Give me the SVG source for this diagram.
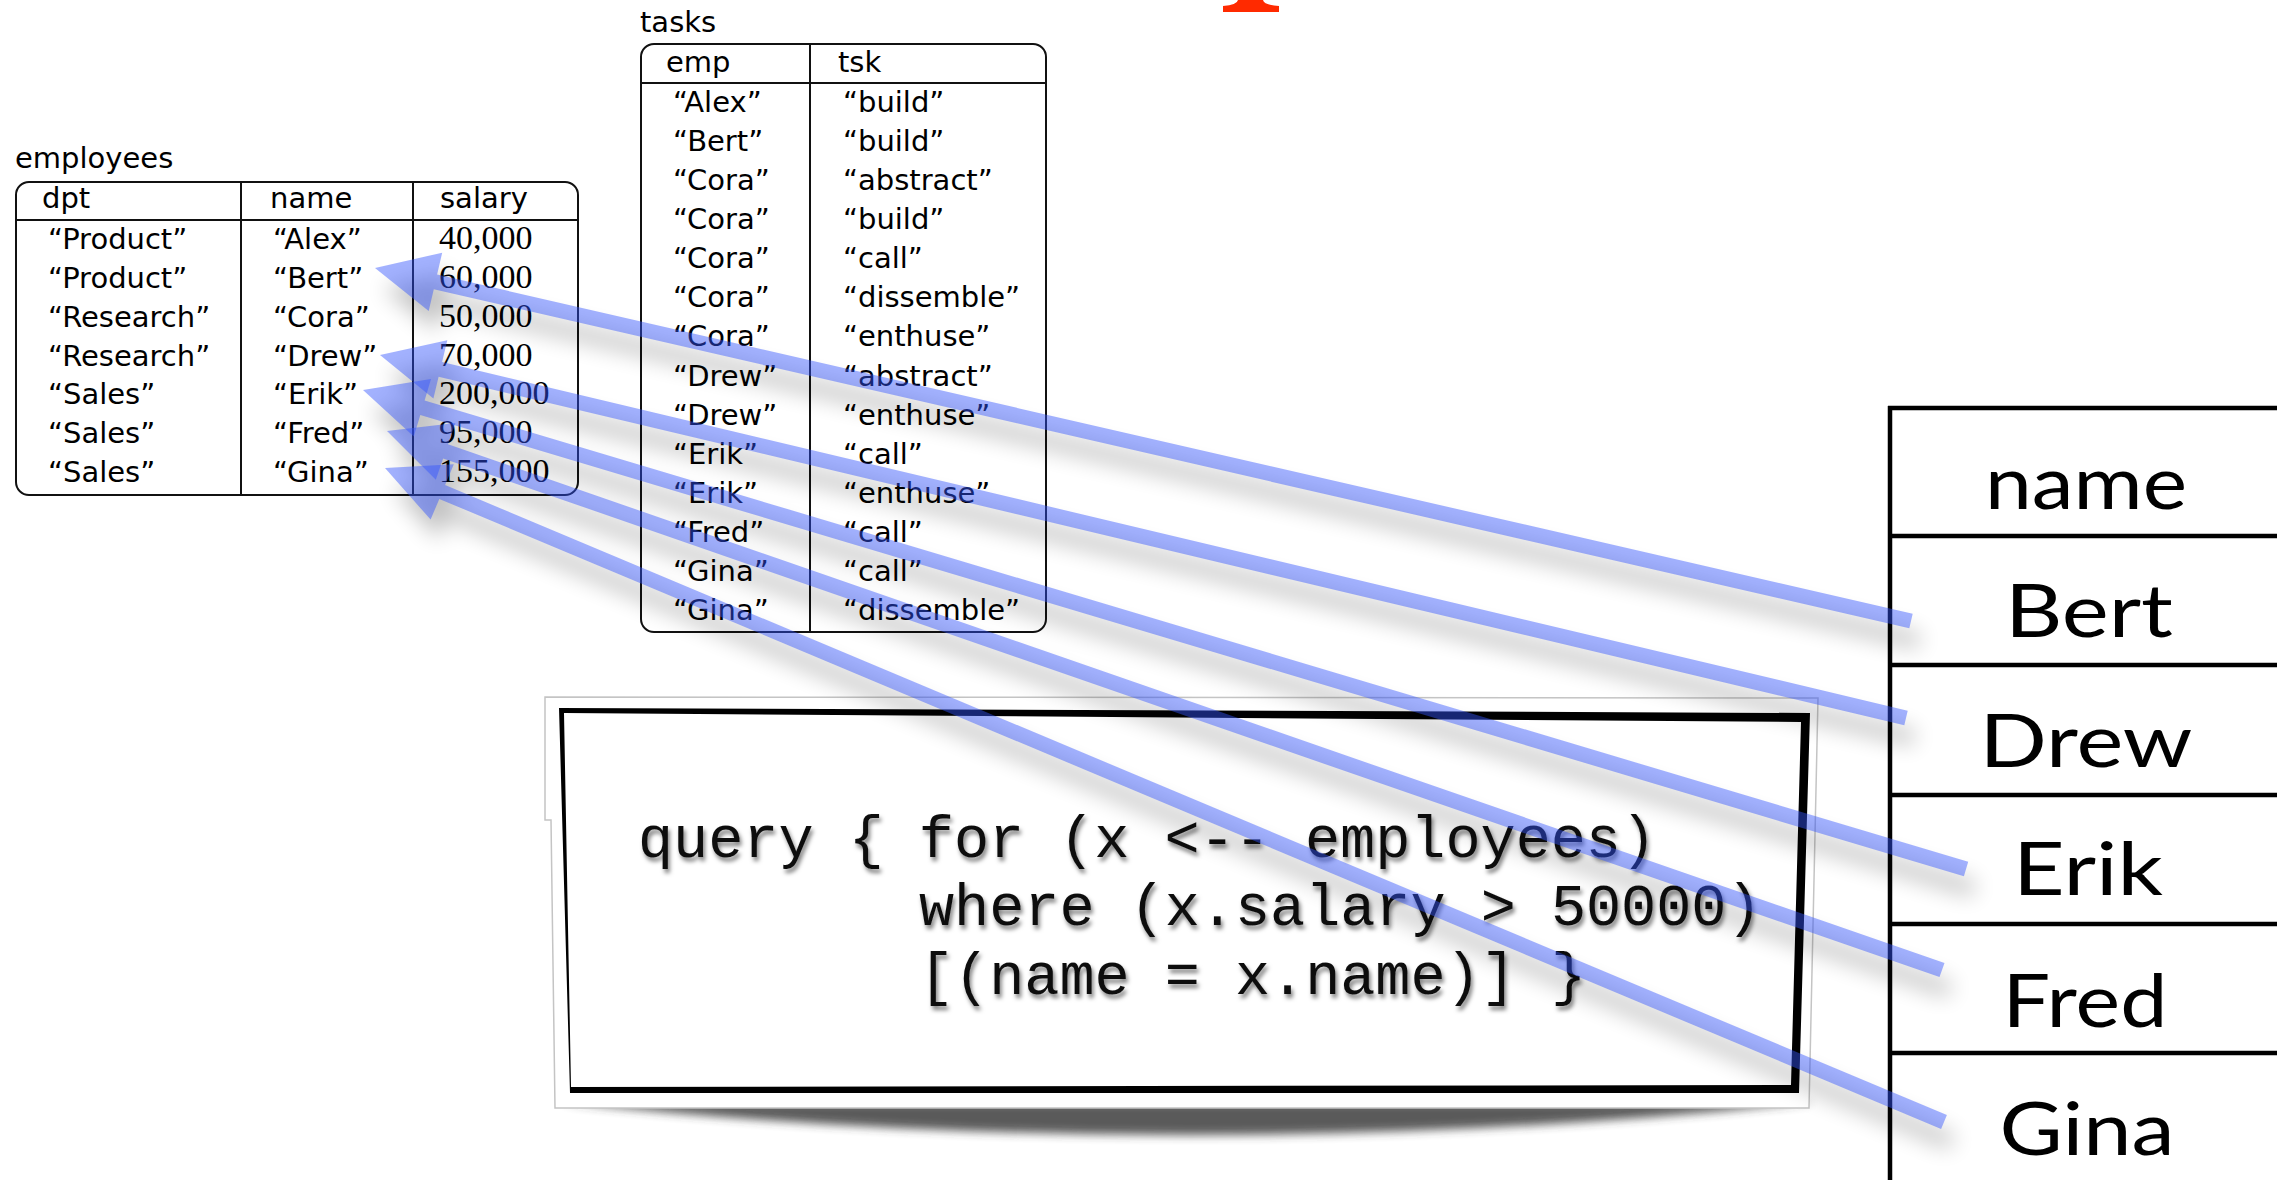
<svg xmlns="http://www.w3.org/2000/svg" xmlns:xlink="http://www.w3.org/1999/xlink" width="2277" height="1180" viewBox="0 0 2277 1180">
  <style>
    .tbl { fill: none; stroke: #111; stroke-width: 2; }
    .rule { stroke: #111; stroke-width: 2; }
    .t { font-family: "DejaVu Sans", "Liberation Sans", sans-serif; font-size: 29px; fill: #000; }
    .num { font-family: "Liberation Serif", serif; font-size: 34px; fill: #000; }
    .res { font-family: Lato, "Noto Sans", sans-serif; font-size: 74px; fill: #000; text-anchor: middle; }
    .resline { stroke: #000; stroke-width: 4.5; }
    .code { font-family: "Courier New", Courier, "Liberation Mono", monospace; font-size: 58.5px; fill: #111; }
    .arrow { fill: #3355ff; fill-opacity: 0.45; }
    .arrow-shadow { fill: #000; }
  </style>
  <defs>
    <filter id="blurArrow" filterUnits="userSpaceOnUse" x="0" y="0" width="2277" height="1180">
      <feGaussianBlur stdDeviation="11"/>
    </filter>
    <filter id="blurCurl" x="-5%" y="-100%" width="110%" height="300%">
      <feGaussianBlur stdDeviation="5"/>
    </filter>
    <filter id="codeShadow" x="-5%" y="-20%" width="110%" height="150%">
      <feDropShadow dx="2" dy="4" stdDeviation="2.2" flood-color="#000" flood-opacity="0.5"/>
    </filter>
    <!-- arrow outlines: tip at the employee name, tail at the result row -->
    <polygon id="arrow-bert" points="375,268 442.2,252.7 437.1,274.6 1912.7,613.7 1909.3,628.3 433.8,289.2 428.7,311.1"/>
    <polygon id="arrow-drew" points="380,355 447.3,340.2 442.1,362.1 1907.7,710.7 1904.3,725.3 438.6,376.7 433.4,398.5"/>
    <polygon id="arrow-erik" points="363,390 431,379 424.6,400.6 1968.2,861.8 1963.9,876.2 420.3,414.9 413.8,436.5"/>
    <polygon id="arrow-fred" points="387,431 455.4,423 448,444.2 1944.5,962.9 1939.5,977.1 443.1,458.4 435.8,479.7"/>
    <polygon id="arrow-gina" points="385,468 453.8,464.3 445.1,485.1 1946.9,1115.1 1941.1,1128.9 439.3,498.9 430.6,519.6"/>
  </defs>

  <rect x="0" y="0" width="2277" height="1180" fill="#fff"/>

  <!-- red mark at the top edge -->
  <g id="red-mark">
    <path d="M1223,12 L1279,12 L1279,6 Q1264,5 1263,0 L1238,0 Q1237,5 1223,6 Z" fill="#ff2a00"/>
  </g>

  <!-- employees table -->
  <g id="employees">
    <text class="t" x="15" y="168">employees</text>
    <rect class="tbl" x="16" y="182" width="562" height="313" rx="13"/>
    <line class="rule" x1="16" y1="220" x2="578" y2="220"/>
    <line class="rule" x1="241" y1="182" x2="241" y2="495"/>
    <line class="rule" x1="413" y1="182" x2="413" y2="495"/>
    <g class="t">
      <text x="42" y="208">dpt</text>
      <text x="270" y="208">name</text>
      <text x="440" y="208">salary</text>
      <text x="48" y="249">“Product”</text>
      <text x="48" y="288">“Product”</text>
      <text x="48" y="327">“Research”</text>
      <text x="48" y="366">“Research”</text>
      <text x="48" y="404">“Sales”</text>
      <text x="48" y="443">“Sales”</text>
      <text x="48" y="482">“Sales”</text>
      <text x="273" y="249">“Alex”</text>
      <text x="273" y="288">“Bert”</text>
      <text x="273" y="327">“Cora”</text>
      <text x="273" y="366">“Drew”</text>
      <text x="273" y="404">“Erik”</text>
      <text x="273" y="443">“Fred”</text>
      <text x="273" y="482">“Gina”</text>
    </g>
    <g class="num">
      <text x="439" y="249">40,000</text>
      <text x="439" y="288">60,000</text>
      <text x="439" y="327">50,000</text>
      <text x="439" y="366">70,000</text>
      <text x="439" y="404">200,000</text>
      <text x="439" y="443">95,000</text>
      <text x="439" y="482">155,000</text>
    </g>
  </g>

  <!-- tasks table -->
  <g id="tasks">
    <text class="t" x="640" y="32">tasks</text>
    <rect class="tbl" x="641" y="44" width="405" height="588" rx="13"/>
    <line class="rule" x1="641" y1="83" x2="1046" y2="83"/>
    <line class="rule" x1="810" y1="44" x2="810" y2="632"/>
    <g class="t">
      <text x="666" y="72">emp</text>
      <text x="838" y="72">tsk</text>
      <text x="673" y="112">“Alex”</text><text x="843" y="112">“build”</text>
      <text x="673" y="151">“Bert”</text><text x="843" y="151">“build”</text>
      <text x="673" y="190">“Cora”</text><text x="843" y="190">“abstract”</text>
      <text x="673" y="229">“Cora”</text><text x="843" y="229">“build”</text>
      <text x="673" y="268">“Cora”</text><text x="843" y="268">“call”</text>
      <text x="673" y="307">“Cora”</text><text x="843" y="307">“dissemble”</text>
      <text x="673" y="346">“Cora”</text><text x="843" y="346">“enthuse”</text>
      <text x="673" y="386">“Drew”</text><text x="843" y="386">“abstract”</text>
      <text x="673" y="425">“Drew”</text><text x="843" y="425">“enthuse”</text>
      <text x="673" y="464">“Erik”</text><text x="843" y="464">“call”</text>
      <text x="673" y="503">“Erik”</text><text x="843" y="503">“enthuse”</text>
      <text x="673" y="542">“Fred”</text><text x="843" y="542">“call”</text>
      <text x="673" y="581">“Gina”</text><text x="843" y="581">“call”</text>
      <text x="673" y="620">“Gina”</text><text x="843" y="620">“dissemble”</text>
    </g>
  </g>

  <!-- query card -->
  <g id="query">
    <path d="M560,1102 L1815,1102 Q1190,1168 560,1102 Z" fill="#333" opacity="0.8" filter="url(#blurCurl)"/>
    <path d="M545,697 L1818,698 L1809,1108 L555,1108 L551,820 L545,820 Z" fill="#fff" stroke="#c4c4c4" stroke-width="1.5"/>
    <path fill="#000" fill-rule="evenodd"
          d="M559,708 L1810,713 L1799,1093 L570,1093 Z M564,713 L571,1087 L1791,1085 L1801,722 Z"/>
    <g class="code" filter="url(#codeShadow)">
      <text x="638" y="857">query { for (x &lt;-- employees)</text>
      <text x="919" y="925">where (x.salary &gt; 50000)</text>
      <text x="919" y="994">[(name = x.name)] }</text>
    </g>
  </g>

  <!-- result table -->
  <g id="result">
    <line class="resline" x1="1890" y1="406" x2="1890" y2="1180"/>
    <line class="resline" x1="1888" y1="408" x2="2277" y2="408"/>
    <line class="resline" x1="1888" y1="536" x2="2277" y2="536"/>
    <line class="resline" x1="1888" y1="665" x2="2277" y2="665"/>
    <line class="resline" x1="1888" y1="795" x2="2277" y2="795"/>
    <line class="resline" x1="1888" y1="924" x2="2277" y2="924"/>
    <line class="resline" x1="1888" y1="1053" x2="2277" y2="1053"/>
    <text class="res" x="2086" y="509" textLength="202" lengthAdjust="spacingAndGlyphs">name</text>
    <text class="res" x="2089" y="637" textLength="168" lengthAdjust="spacingAndGlyphs">Bert</text>
    <text class="res" x="2086" y="767" textLength="213" lengthAdjust="spacingAndGlyphs">Drew</text>
    <text class="res" x="2088" y="895" textLength="150" lengthAdjust="spacingAndGlyphs">Erik</text>
    <text class="res" x="2085" y="1027" textLength="165" lengthAdjust="spacingAndGlyphs">Fred</text>
    <text class="res" x="2087" y="1155" textLength="175" lengthAdjust="spacingAndGlyphs">Gina</text>
  </g>

  <!-- connectors: soft shadow, then translucent arrows -->
  <g id="connectors">
    <g class="arrow-shadow" transform="translate(8,20)" opacity="0.24" filter="url(#blurArrow)">
      <use xlink:href="#arrow-bert"/>
      <use xlink:href="#arrow-drew"/>
      <use xlink:href="#arrow-erik"/>
      <use xlink:href="#arrow-fred"/>
      <use xlink:href="#arrow-gina"/>
    </g>
    <g class="arrow">
      <use xlink:href="#arrow-bert"/>
      <use xlink:href="#arrow-drew"/>
      <use xlink:href="#arrow-erik"/>
      <use xlink:href="#arrow-fred"/>
      <use xlink:href="#arrow-gina"/>
    </g>
  </g>
</svg>
